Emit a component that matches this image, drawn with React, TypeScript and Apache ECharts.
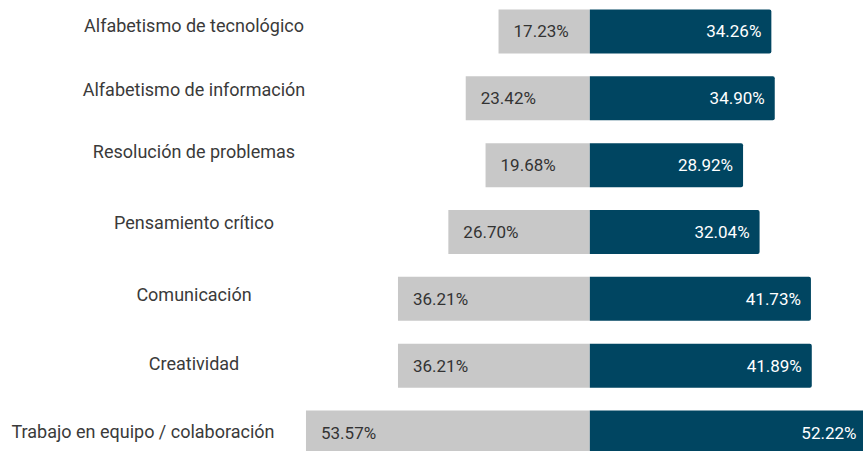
import React, { useEffect, useRef } from "react";
import * as echarts from "echarts";

const categories = [
  "Alfabetismo de tecnológico",
  "Alfabetismo de información",
  "Resolución de problemas",
  "Pensamiento crítico",
  "Comunicación",
  "Creatividad",
  "Trabajo en equipo / colaboración",
];
const leftValues = [17.23, 23.42, 19.68, 26.7, 36.21, 36.21, 53.57];
const rightValues = [34.26, 34.9, 28.92, 32.04, 41.73, 41.89, 52.22];

// per-label vertical shift (px, negative = up) and horizontal shift (px, negative = left)
const labelShiftY = [-6, -8.5, -14, -9.5, -4, -2, -1];
const labelShiftX = [0, 0, 0, 0, 0, 0, -51];

export default function App() {
  const ref = useRef<HTMLDivElement>(null);
  useEffect(() => {
    document.body.style.margin = "0";
    const chart = echarts.init(ref.current!, null, { renderer: "svg" });
    const rich: Record<string, any> = {};
    categories.forEach((_, i) => {
      const dy = labelShiftY[i];
      const dx = labelShiftX[i];
      rich["a" + i] = {
        fontFamily: "Roboto",
        fontSize: 18,
        color: "#3a3a3a",
        padding: [dy > 0 ? 2 * dy : 0, dx < 0 ? -2 * dx : 0, dy < 0 ? -2 * dy : 0, dx > 0 ? 2 * dx : 0],
      };
    });
    chart.setOption({
      animation: false,
      grid: { left: 0, right: -5, top: -2, bottom: -15, containLabel: false, outerBoundsMode: "none" },
      xAxis: {
        type: "value",
        min: -111.32,
        max: 52.5,
        show: false,
        splitLine: { show: false },
      },
      yAxis: {
        type: "category",
        inverse: true,
        data: categories,
        axisLine: { show: false, onZero: false },
        axisTick: { show: false },
        axisLabel: {
          align: "center",
          margin: -194,
          fontFamily: "Roboto",
          fontSize: 18,
          color: "#3a3a3a",
          formatter: (v: string, i: number) => `{a${i}|${v}}`,
          rich,
        },
      },
      series: [
        {
          type: "bar",
          data: leftValues.map((v) => -v),
          barWidth: 44,
          barGap: "-100%",
          itemStyle: { color: "#c8c8c8" },
          label: {
            show: true,
            position: "insideLeft",
            distance: 15,
            formatter: (p: any) => Math.abs(p.value).toFixed(2) + "%",
            color: "#333333",
            fontFamily: "Roboto",
            fontSize: 17,
          },
        },
        {
          type: "bar",
          data: rightValues,
          barWidth: 44,
          barGap: "-100%",
          itemStyle: { color: "#004561", borderRadius: [0, 2, 2, 0] },
          label: {
            show: true,
            position: "insideRight",
            distance: 10,
            formatter: (p: any) => p.value.toFixed(2) + "%",
            color: "#ffffff",
            fontFamily: "Roboto",
            fontSize: 17,
          },
        },
      ],
    });
    return () => chart.dispose();
  }, []);
  return <div ref={ref} style={{ width: 863, height: 451 }} />;
}
